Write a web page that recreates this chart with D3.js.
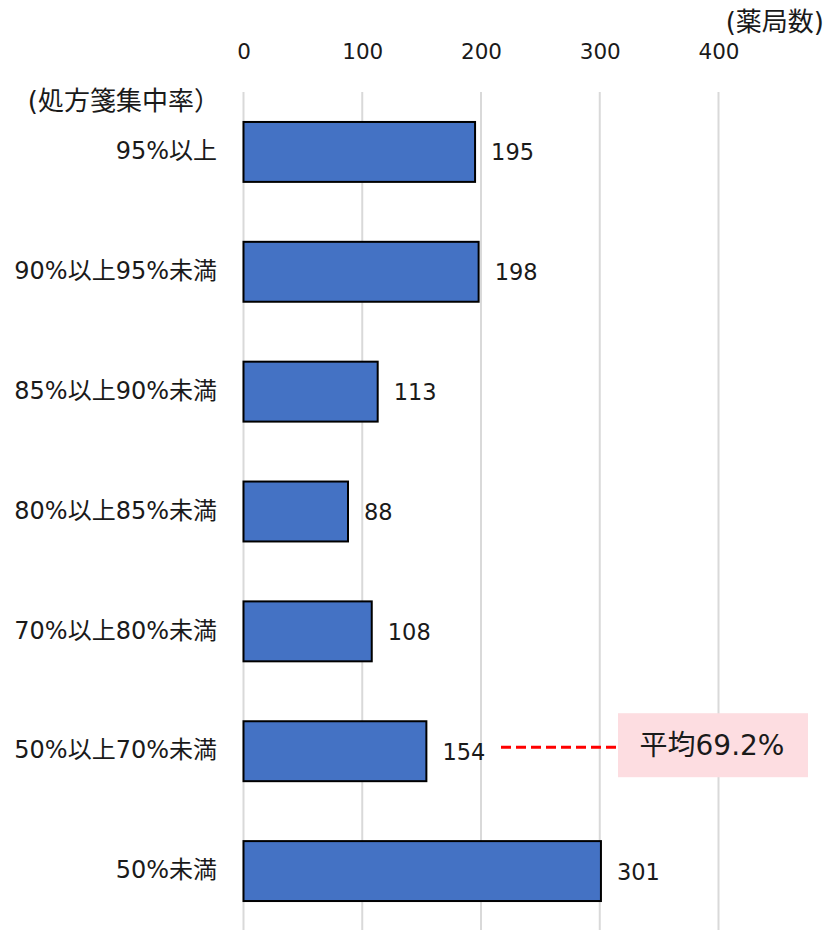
<!DOCTYPE html>
<html>
<head>
<meta charset="utf-8">
<script src="https://cdn.jsdelivr.net/npm/d3@7"></script>
<style>
    body { margin: 0; background: #fff; }
    text { font-family: "DejaVu Sans", "Noto Sans CJK JP", sans-serif; fill: #1a1a1a; }
</style>
</head>
<body>
<svg id="chart" width="828" height="930"></svg>
<script>
// chart data
var categories = ['95%以上', '90%以上95%未満', '85%以上90%未満', '80%以上85%未満',
                  '70%以上80%未満', '50%以上70%未満', '50%未満'];
var counts = [195, 198, 113, 88, 108, 154, 301];
var xTicks = [0, 100, 200, 300, 400];
var avgLabel = '平均69.2%';
var avgCategory = '50%以上70%未満';

var svg = d3.select('#chart');

var x = d3.scaleLinear().domain([0, 400]).range([243.5, 718.5]);
var y = d3.scaleBand().domain(categories).range([92, 931]).paddingInner(0.5).paddingOuter(0.25);

// gridlines
svg.append('g').selectAll('line').data(xTicks).enter().append('line')
    .attr('x1', function(d) { return x(d); })
    .attr('x2', function(d) { return x(d); })
    .attr('y1', 92).attr('y2', 930)
    .attr('stroke', '#d9d9d9')
    .attr('stroke-width', 2);

// top axis tick labels
var axis = d3.axisTop(x).tickValues(xTicks).tickSize(0).tickPadding(0);
var gAxis = svg.append('g').attr('transform', 'translate(0,59)').call(axis);
gAxis.select('.domain').remove();
gAxis.selectAll('text')
    .style('font-size', '21.5px')
    .attr('font-family', null);

// category labels
svg.append('g').selectAll('text').data(categories).enter().append('text')
    .attr('x', 217)
    .attr('y', function(d) { return y(d) + y.bandwidth() / 2; })
    .attr('dy', '0.3em')
    .attr('text-anchor', 'end')
    .style('font-size', '24px')
    .text(function(d) { return d; });

// bars
svg.append('g').selectAll('rect').data(counts).enter().append('rect')
    .attr('x', x(0))
    .attr('y', function(d, i) { return y(categories[i]); })
    .attr('width', function(d) { return x(d) - x(0); })
    .attr('height', y.bandwidth())
    .attr('fill', '#4472c4')
    .attr('stroke', '#000')
    .attr('stroke-width', 2);

// value labels
svg.append('g').selectAll('text').data(counts).enter().append('text')
    .attr('x', function(d) { return x(d) + 16; })
    .attr('y', function(d, i) { return y(categories[i]) + y.bandwidth() / 2; })
    .attr('dy', '0.38em')
    .style('font-size', '22.5px')
    .text(function(d) { return d; });

// axis titles
svg.append('text')
    .attr('x', 220).attr('y', 101)
    .attr('dy', '0.35em')
    .attr('text-anchor', 'end')
    .style('font-size', '26px')
    .text('(処方箋集中率）');

svg.append('text')
    .attr('x', 824).attr('y', 22)
    .attr('dy', '0.35em')
    .attr('text-anchor', 'end')
    .style('font-size', '26px')
    .text('(薬局数)');

// average annotation
var avgY = y(avgCategory) + y.bandwidth() / 2 - 4;
svg.append('line')
    .attr('x1', 501).attr('x2', 618)
    .attr('y1', avgY).attr('y2', avgY)
    .attr('stroke', '#ff0000')
    .attr('stroke-width', 3)
    .attr('stroke-dasharray', '10,5');

svg.append('rect')
    .attr('x', 618).attr('y', avgY - 34)
    .attr('width', 190).attr('height', 64)
    .attr('fill', '#fddde1');

svg.append('text')
    .attr('x', 712).attr('y', avgY - 2)
    .attr('dy', '0.35em')
    .attr('text-anchor', 'middle')
    .style('font-size', '28px')
    .text(avgLabel);
</script>
</body>
</html>
